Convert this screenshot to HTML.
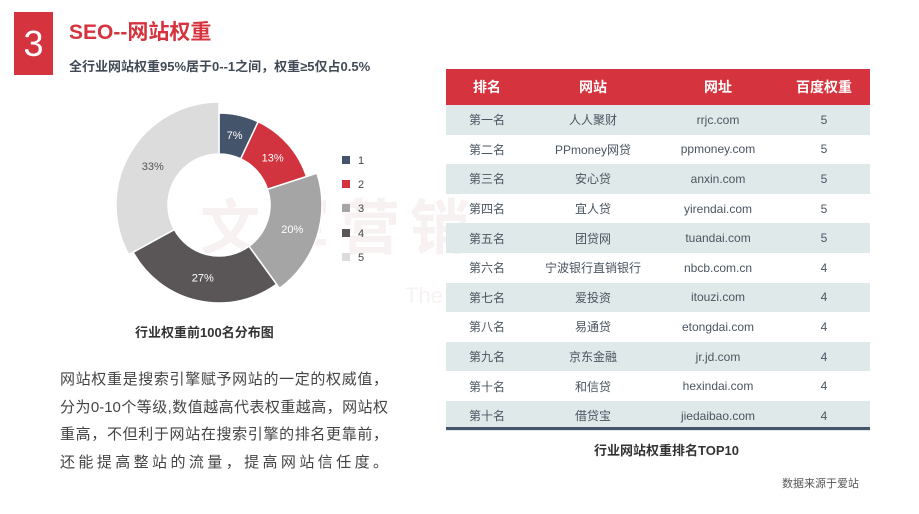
<!DOCTYPE html>
<html><head><meta charset="utf-8"><style>
body{margin:0;width:919px;height:514px;background:#fff;position:relative;overflow:hidden;font-family:"Liberation Sans","Noto Sans CJK SC",sans-serif;}
.abs{position:absolute;}
.num{left:14px;top:12px;width:39px;height:63px;background:#d5343f;color:#fff;font-size:36px;line-height:63px;text-align:center;}
.title{left:69px;top:16px;font-size:21px;font-weight:bold;color:#d5343f;}
.sub{left:69px;top:56px;font-size:13px;font-weight:bold;color:#404a55;}
table{position:absolute;left:446px;top:69px;width:424px;border-collapse:collapse;font-size:12px;color:#4a5560;table-layout:fixed;}
th{background:#d5343f;color:#fff;height:34px;font-size:14px;font-weight:bold;}
td{height:29.6px;text-align:center;padding:0;}
tr.o td{background:#e0e9ea;}
.tb{left:446px;top:427px;width:424px;height:3px;background:#44546a;}
.cap{font-size:13px;font-weight:bold;color:#333;}
.para div{width:328px;font-size:15px;color:#444;height:27.7px;line-height:27.7px;white-space:nowrap;text-align:justify;text-align-last:justify;}
.leg{left:342px;font-size:11px;color:#444;}
.leg i{display:inline-block;width:8px;height:8px;margin-right:8px;}
</style></head><body>
<div class="abs" style="left:200px;top:180px;font-size:60px;font-weight:bold;color:#f8f1f1;letter-spacing:10px;">文军营销</div>
<div class="abs" style="left:405px;top:283px;font-size:22px;color:#f8f3f3;">The success you deserve</div>
<div class="abs num">3</div>
<div class="abs title">SEO--网站权重</div>
<div class="abs sub">全行业网站权重95%居于0--1之间，权重≥5仅占0.5%</div>
<svg class="abs" style="left:0;top:0" width="440" height="320" id="pie"></svg>
<div class="abs leg" style="top:155px"><i style="background:#44546a"></i>1</div>
<div class="abs leg" style="top:179px"><i style="background:#d1343e"></i>2</div>
<div class="abs leg" style="top:203px"><i style="background:#a5a5a5"></i>3</div>
<div class="abs leg" style="top:228px"><i style="background:#5a5657"></i>4</div>
<div class="abs leg" style="top:252px"><i style="background:#dcdcdc"></i>5</div>
<div class="abs cap" style="left:135px;top:322px">行业权重前100名分布图</div>
<div class="abs para" style="left:60px;top:366px">
<div>网站权重是搜索引擎赋予网站的一定的权威值，</div>
<div>分为0-10个等级,数值越高代表权重越高，网站权</div>
<div>重高，不但利于网站在搜索引擎的排名更靠前，</div>
<div>还能提高整站的流量，提高网站信任度。</div>
</div>
<table>
<colgroup><col style="width:82px"><col style="width:130px"><col style="width:120px"><col style="width:92px"></colgroup>
<tr><th>排名</th><th>网站</th><th>网址</th><th>百度权重</th></tr>
<tr class="o"><td>第一名</td><td>人人聚财</td><td>rrjc.com</td><td>5</td></tr>
<tr><td>第二名</td><td>PPmoney网贷</td><td>ppmoney.com</td><td>5</td></tr>
<tr class="o"><td>第三名</td><td>安心贷</td><td>anxin.com</td><td>5</td></tr>
<tr><td>第四名</td><td>宜人贷</td><td>yirendai.com</td><td>5</td></tr>
<tr class="o"><td>第五名</td><td>团贷网</td><td>tuandai.com</td><td>5</td></tr>
<tr><td>第六名</td><td>宁波银行直销银行</td><td>nbcb.com.cn</td><td>4</td></tr>
<tr class="o"><td>第七名</td><td>爱投资</td><td>itouzi.com</td><td>4</td></tr>
<tr><td>第八名</td><td>易通贷</td><td>etongdai.com</td><td>4</td></tr>
<tr class="o"><td>第九名</td><td>京东金融</td><td>jr.jd.com</td><td>4</td></tr>
<tr><td>第十名</td><td>和信贷</td><td>hexindai.com</td><td>4</td></tr>
<tr class="o"><td>第十名</td><td>借贷宝</td><td>jiedaibao.com</td><td>4</td></tr>
</table>
<div class="abs tb"></div>
<div class="abs cap" style="left:594px;top:440px">行业网站权重排名TOP10</div>
<div class="abs" style="left:782px;top:475px;font-size:11px;color:#555">数据来源于爱站</div>
<script>
var cx=219,cy=205,ri=51;
var d=[[7,92,"#44546a","#fff"],[13,92,"#d1343e","#fff"],[20,103,"#a5a5a5","#fff"],[27,98,"#5a5657","#fff"],[33,103,"#dcdcdc","#555"]];
var a=0,s="";
function p(r,t){return [cx+r*Math.sin(t),cy-r*Math.cos(t)];}
d.forEach(function(x){var a0=a*Math.PI/50,a1=(a+x[0])*Math.PI/50;a+=x[0];
var r=x[1],lg=(a1-a0)>Math.PI?1:0;
var A=p(r,a0),B=p(r,a1),C=p(ri,a1),D=p(ri,a0);
s+='<path d="M'+A+' A'+r+','+r+' 0 '+lg+' 1 '+B+' L'+C+' A'+ri+','+ri+' 0 '+lg+' 0 '+D+'Z" fill="'+x[2]+'" stroke="#fff" stroke-width="1.5"/>';
var m=p((r+ri)/2,(a0+a1)/2);
s+='<text x="'+m[0]+'" y="'+(m[1]+4)+'" text-anchor="middle" font-size="11" fill="'+x[3]+'" font-family="Liberation Sans">'+x[0]+'%</text>';});
document.getElementById('pie').innerHTML=s;
</script>
</body></html>
